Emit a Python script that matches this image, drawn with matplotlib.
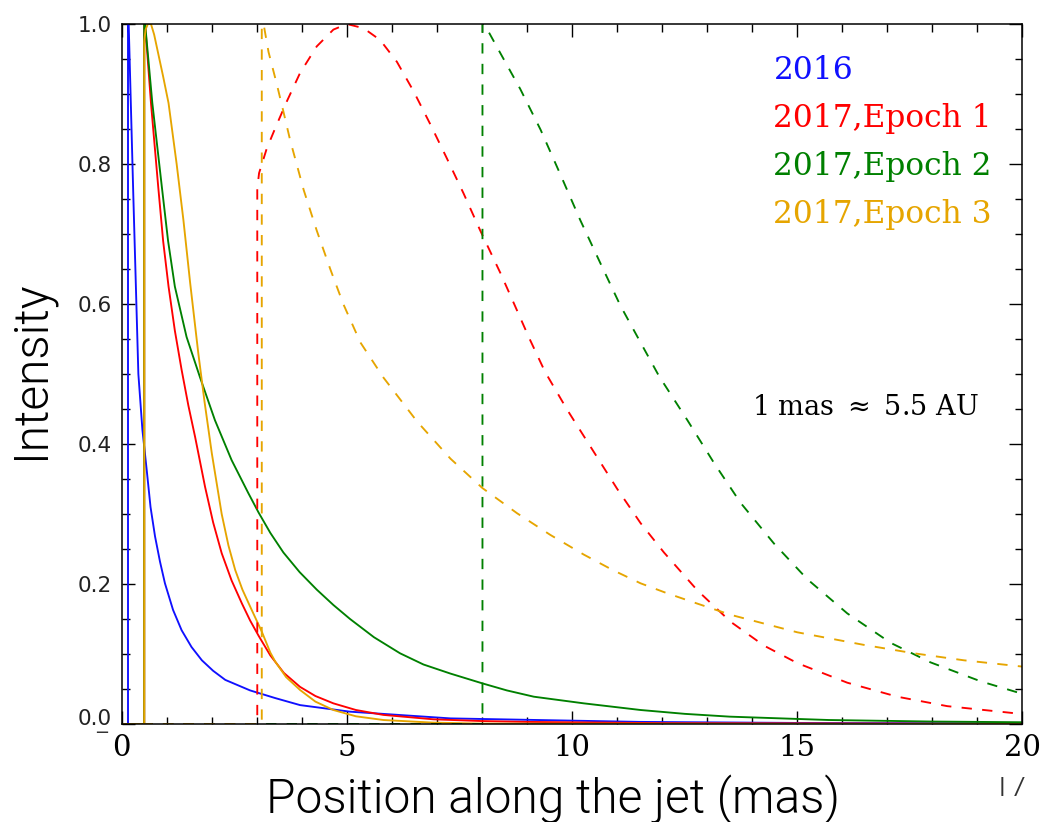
import matplotlib
matplotlib.use("Agg")
import matplotlib.pyplot as plt
from matplotlib import font_manager as fm
from matplotlib.patches import Rectangle
from matplotlib.ticker import MultipleLocator, FixedLocator
from matplotlib.transforms import ScaledTranslation

# ---- intensity profiles along the jet (position in mas) ----
blue_x = [0.0, 0.14, 0.14, 0.155, 0.26, 0.37, 0.46, 0.555, 0.64, 0.74, 0.85, 0.96, 1.14,
          1.33, 1.55, 1.78, 2.03, 2.30, 2.85, 3.41, 3.96, 5.07, 7.30, 11.5, 15.0, 20.0]
blue_y = [0.0, 0.0, 1.0, 1.0, 0.75, 0.50, 0.42, 0.363, 0.31, 0.268, 0.232, 0.201, 0.163,
          0.134, 0.110, 0.091, 0.076, 0.063, 0.048, 0.037, 0.027, 0.0176, 0.008, 0.003,
          0.0015, 0.0008]

red_x = [0.0, 0.50, 0.50, 0.52, 0.65, 0.81, 0.92, 1.04, 1.18, 1.33, 1.48, 1.63, 1.85, 2.03,
         2.22, 2.44, 2.67, 2.85, 3.04, 3.30, 3.60, 3.96, 4.30, 4.70, 5.20, 5.81, 6.92, 8.0,
         9.0, 12.0, 20.0]
red_y = [0.0, 0.0, 1.0, 1.0, 0.887, 0.768, 0.69, 0.625, 0.562, 0.506, 0.455, 0.41, 0.339,
         0.288, 0.244, 0.205, 0.172, 0.148, 0.126, 0.098, 0.073, 0.053, 0.040, 0.0295,
         0.020, 0.013, 0.0067, 0.0042, 0.003, 0.0012, 0.0003]

green_x = [0.0, 0.50, 0.50, 0.52, 0.68, 0.89, 1.03, 1.18, 1.44, 1.74, 2.07, 2.44, 2.81,
           3.04, 3.30, 3.59, 3.95, 4.33, 4.70, 5.07, 5.60, 6.18, 6.70, 7.30, 8.01, 8.55,
           9.15, 10.26, 11.52, 12.5, 13.5, 15.7, 18.0, 20.0]
green_y = [0.0, 0.0, 1.0, 1.0, 0.887, 0.768, 0.69, 0.625, 0.553, 0.495, 0.434, 0.377,
           0.33, 0.302, 0.273, 0.245, 0.217, 0.192, 0.170, 0.150, 0.124, 0.101, 0.085,
           0.072, 0.058, 0.048, 0.039, 0.0295, 0.02, 0.0145, 0.0105, 0.0057, 0.0035, 0.0025]

orange_x = [0.0, 0.50, 0.50, 0.53, 0.58, 0.65, 0.72, 0.81, 0.92, 1.04, 1.22, 1.37, 1.52,
            1.70, 1.84, 2.00, 2.22, 2.37, 2.52, 2.68, 2.85, 3.11, 3.30, 3.41, 3.65, 3.96,
            4.30, 4.70, 5.20, 5.81, 6.90, 8.0, 20.0]
orange_y = [0.0, 0.0, 0.975, 0.992, 1.0, 1.0, 0.985, 0.958, 0.925, 0.887, 0.80, 0.72, 0.63,
            0.53, 0.46, 0.387, 0.30, 0.255, 0.22, 0.192, 0.168, 0.132, 0.102, 0.089, 0.067,
            0.0486, 0.032, 0.02, 0.011, 0.0057, 0.002, 0.0005, 0.0]

red_d_x = [0.0, 3.01, 3.01, 3.05, 3.22, 3.44, 3.67, 3.96, 4.33, 4.70, 5.0, 5.37, 5.74,
           6.11, 6.48, 6.85, 7.22, 7.59, 7.96, 8.41, 8.70, 9.05, 9.40, 9.89, 10.41, 11.0,
           11.52, 12.04, 12.78, 13.52, 14.26, 15.0, 16.11, 17.22, 18.33, 19.81, 20.0]
red_d_y = [0.0, 0.0, 0.765, 0.787, 0.822, 0.856, 0.890, 0.930, 0.968, 0.992, 1.0, 0.994,
           0.977, 0.946, 0.904, 0.857, 0.808, 0.758, 0.705, 0.644, 0.602, 0.551, 0.503,
           0.449, 0.396, 0.336, 0.287, 0.245, 0.191, 0.146, 0.112, 0.087, 0.059, 0.039,
           0.0255, 0.0155, 0.014]

orange_d_x = [0.0, 3.11, 3.11, 3.15, 3.26, 3.44, 3.59, 3.74, 4.04, 4.33, 4.63, 4.92, 5.30,
              5.81, 6.56, 7.30, 8.01, 8.78, 9.52, 10.26, 10.90, 11.52, 12.10, 12.78, 13.52,
              15.0, 16.48, 17.59, 18.70, 20.0]
orange_d_y = [0.0, 0.0, 1.0, 1.0, 0.96, 0.915, 0.875, 0.834, 0.763, 0.705, 0.650, 0.600,
              0.545, 0.495, 0.432, 0.379, 0.337, 0.301, 0.270, 0.242, 0.220, 0.201, 0.187,
              0.172, 0.156, 0.131, 0.113, 0.101, 0.091, 0.082]

green_d_x = [0.0, 8.01, 8.01, 8.05, 8.41, 8.85, 9.30, 9.74, 10.18, 10.63, 11.07, 11.52,
             11.93, 12.56, 13.15, 13.74, 14.48, 15.22, 16.11, 17.07, 17.96, 19.07, 20.0]
green_d_y = [0.0, 0.0, 1.0, 1.0, 0.958, 0.907, 0.849, 0.785, 0.72, 0.658, 0.598, 0.545,
             0.497, 0.434, 0.373, 0.316, 0.258, 0.207, 0.158, 0.116, 0.088, 0.0610, 0.043]

series_labels = ["2016", "2017,Epoch 1", "2017,Epoch 2", "2017,Epoch 3"]
series_colors = ["#1010ff", "#ff0000", "#008000", "#e6a500"]
x_ticks = [0, 5, 10, 15, 20]
x_tick_labels = ["0", "5", "10", "15", "20"]
y_ticks = [0.0, 0.2, 0.4, 0.6, 0.8, 1.0]
y_tick_labels = ["0.0", "0.2", "0.4", "0.6", "0.8", "1.0"]
scale_note = "1 mas $\\approx$ 5.5 AU"


def light_sans(size):
    """Pick a light-weight sans face for the axis titles if one is installed."""
    def is_light(w):
        if isinstance(w, str):
            return w.lower() in ("light", "extra light", "ultralight")
        return 200 <= int(w) <= 300
    for fam in ("Roboto", "Lato", "Open Sans", "Inter", "Noto Sans"):
        for f in fm.fontManager.ttflist:
            if f.name == fam and f.style == "normal" and is_light(f.weight):
                return fm.FontProperties(fname=f.fname, size=size)
    return fm.FontProperties(family="Liberation Sans", size=size)


plt.rcParams["mathtext.fontset"] = "dejavuserif"

W, H = 1043, 822
fig = plt.figure(figsize=(W / 100, H / 100), dpi=100)
ax = fig.add_axes([121.7 / W, 98 / H, (1022.5 - 121.7) / W, 700 / H])

lw = 1.35
dash = (0, (5.5, 5.5))
solid = [(blue_x, blue_y), (red_x, red_y), (green_x, green_y), (orange_x, orange_y)]
for (xs, ys), c in zip(solid, series_colors):
    ax.plot(xs, ys, color=c, lw=lw, solid_joinstyle="round")
dashed = [(red_d_x, red_d_y, series_colors[1]),
          (green_d_x, green_d_y, series_colors[2]),
          (orange_d_x, orange_d_y, series_colors[3])]
for xs, ys, c in dashed:
    ax.plot(xs, ys, color=c, lw=lw, linestyle=dash)

ax.set_xlim(0, 20)
ax.set_ylim(0, 1.0)
ax.xaxis.set_major_locator(FixedLocator(x_ticks))
ax.xaxis.set_minor_locator(MultipleLocator(1))
ax.yaxis.set_major_locator(FixedLocator(y_ticks))
ax.yaxis.set_minor_locator(MultipleLocator(0.05))
ax.set_xticklabels(x_tick_labels, fontfamily="DejaVu Serif", fontsize=21)
ax.set_yticklabels(y_tick_labels, fontfamily="DejaVu Sans", fontsize=15.5, color="#222222")
ax.tick_params(which="both", direction="in", top=True, right=True, width=1.0, color="black")
ax.tick_params(which="major", length=9.4)
ax.tick_params(which="minor", length=5.4)
ax.tick_params(axis="x", pad=7)
ax.tick_params(axis="y", pad=7)
for s in ax.spines.values():
    s.set_linewidth(1.1)

# lift the "0.0" label slightly off the bottom corner
lab0 = ax.get_yticklabels()[0]
lab0.set_transform(lab0.get_transform() + ScaledTranslation(0, 0.07, fig.dpi_scale_trans))

# series names written inside the plot in their line colours
name_y = [0.921, 0.853, 0.784, 0.716]
for txt, c, yy in zip(series_labels, series_colors, name_y):
    ax.text(14.47, yy, txt, color=c, fontfamily="DejaVu Serif", fontsize=22.5,
            va="baseline", ha="left")

ax.text(14.0, 0.441, scale_note, fontfamily="DejaVu Serif", fontsize=19.5,
        va="baseline", ha="left", color="black")

label_font = light_sans(34.5)
fig.text(553 / W, (H - 813) / H, "Position along the jet (mas)", fontproperties=label_font,
         ha="center", va="baseline", color="black")
fig.text(31 / W, (H - 370) / H, "Intensity", fontproperties=label_font,
         rotation=90, ha="center", va="center", color="black")

# stray marks at the lower corners
fig.text(102 / W, (H - 733) / H, "\u2212", fontsize=13, ha="center", va="center",
         fontfamily="DejaVu Sans", color="#333333")
fig.text(1010 / W, (H - 796) / H, "17", fontproperties=light_sans(24),
         ha="center", va="baseline", color="#333333")
fig.patches.append(Rectangle((985 / W, (H - 777) / H), 58 / W, 15 / H,
                             transform=fig.transFigure, facecolor="white",
                             edgecolor="none", zorder=10))

fig.savefig("out.png", dpi=100)
